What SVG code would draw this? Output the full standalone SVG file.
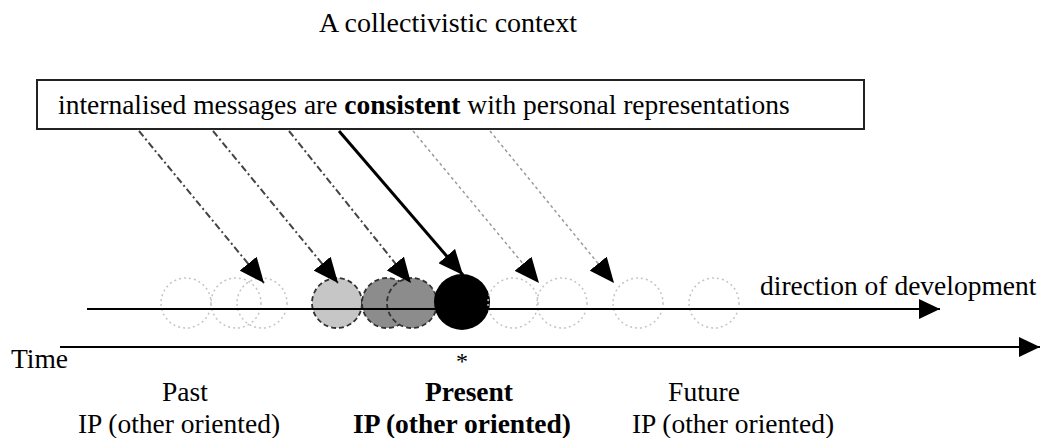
<svg xmlns="http://www.w3.org/2000/svg" width="1045" height="438" viewBox="0 0 1045 438">
<style>
text{font-family:"Liberation Serif","Times New Roman",serif;fill:#000}
.t{font-size:27.5px}
.b{font-weight:bold}
.faint{fill:none;stroke:#c4c4c4;stroke-width:1.5;stroke-dasharray:2 3}
.grey{stroke:#333;stroke-width:1.8;stroke-dasharray:5 3}
.dd{fill:none;stroke:#444;stroke-width:2;stroke-dasharray:7 3 2 3}
.lt{fill:none;stroke:#9a9a9a;stroke-width:1.5;stroke-dasharray:3 3}
.axis{fill:none;stroke:#000;stroke-width:2}
</style>
<defs>
<marker id="ah" markerUnits="userSpaceOnUse" markerWidth="26" markerHeight="22" refX="25" refY="11" orient="auto">
<path d="M0,0 L25,11 L0,22 z" fill="#000"/>
</marker>
<marker id="ax" markerUnits="userSpaceOnUse" markerWidth="22" markerHeight="20" refX="21" refY="10" orient="auto">
<path d="M0,0 L21,10 L0,20 z" fill="#000"/>
</marker>
</defs>
<g id="title"><text x="448" y="32" class="t" text-anchor="middle" style="font-size:28px">A collectivistic context</text></g>
<g id="box">
<rect x="37" y="80" width="827" height="49" fill="#fff" stroke="#222" stroke-width="2"/>
<text x="58" y="114" class="t">internalised messages are <tspan class="b">consistent</tspan> with personal representations</text>
</g>
<g id="circles">
<circle cx="186" cy="303" r="25" class="faint"/>
<circle cx="236" cy="303" r="25" class="faint"/>
<circle cx="262" cy="303" r="25" class="faint"/>
<circle cx="337" cy="303" r="25" fill="#c6c6c6" class="grey"/>
<circle cx="387" cy="303" r="25" fill="#8c8c8c" class="grey"/>
<circle cx="412" cy="303" r="25" fill="#8c8c8c" class="grey"/>
<circle cx="462" cy="302" r="28" fill="#000"/>
<circle cx="513" cy="303" r="25" class="faint"/>
<circle cx="562" cy="303" r="25" class="faint"/>
<circle cx="638" cy="303" r="25" class="faint"/>
<circle cx="714" cy="303" r="25" class="faint"/>
</g>
<g id="connectors">
<line x1="139" y1="131" x2="264" y2="283" class="dd" marker-end="url(#ah)"/>
<line x1="213" y1="131" x2="338" y2="283" class="dd" marker-end="url(#ah)"/>
<line x1="289" y1="131" x2="411" y2="283" class="dd" marker-end="url(#ah)"/>
<line x1="339" y1="131" x2="463" y2="275" fill="none" stroke="#000" stroke-width="3" marker-end="url(#ah)"/>
<line x1="413" y1="131" x2="539" y2="283" class="lt" marker-end="url(#ah)"/>
<line x1="490" y1="131" x2="614" y2="283" class="lt" marker-end="url(#ah)"/>
<line x1="87" y1="309" x2="940" y2="309" class="axis" marker-end="url(#ax)"/>
<line x1="60" y1="347" x2="1040" y2="347" class="axis" marker-end="url(#ax)"/>
</g>
<g id="labels">
<text x="760" y="295" class="t">direction of development</text>
<text x="11" y="368" class="t">Time</text>
<text x="462" y="369" class="t" text-anchor="middle" style="font-size:24px">*</text>
<text x="185" y="401" class="t" text-anchor="middle">Past</text>
<text x="179" y="433" class="t" text-anchor="middle">IP (other oriented)</text>
<text x="469" y="401" class="t b" text-anchor="middle">Present</text>
<text x="462" y="433" class="t b" text-anchor="middle">IP (other oriented)</text>
<text x="704" y="401" class="t" text-anchor="middle">Future</text>
<text x="733" y="433" class="t" text-anchor="middle">IP (other oriented)</text>
</g>
</svg>
